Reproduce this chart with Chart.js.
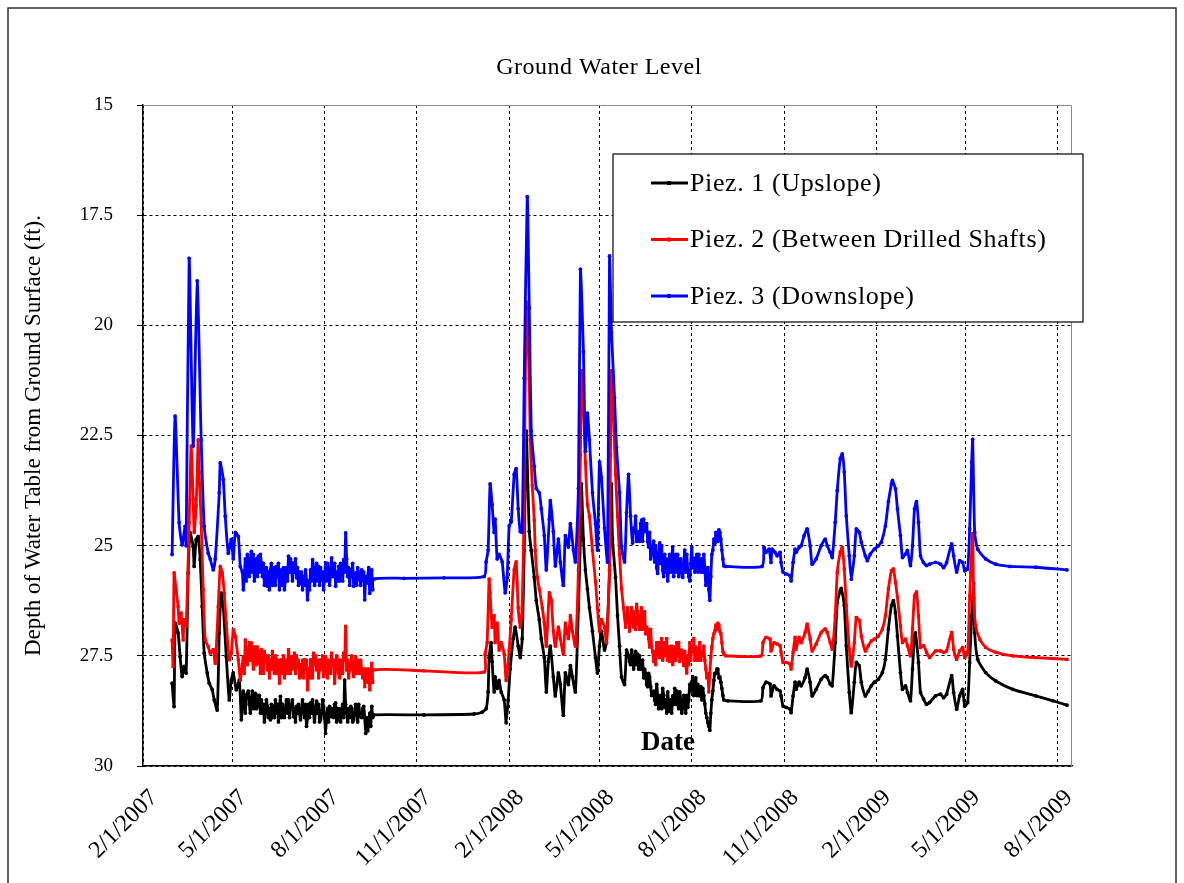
<!DOCTYPE html>
<html>
<head>
<meta charset="utf-8">
<script src="https://cdn.jsdelivr.net/npm/chart.js@4.4.1/dist/chart.umd.min.js"></script>
<style>
  html, body { margin: 0; padding: 0; background: #fff; }
  canvas { display: block; }
</style>
</head>
<body>
<canvas id="chart" width="1184" height="883"></canvas>
<script>
// x = days counted from 2/1/2007, y = depth below ground surface (ft)
const dateTickDays = [0, 89, 181, 273, 365, 455, 547, 639, 731, 820, 912];
const dateTickLabels = ['2/1/2007', '5/1/2007', '8/1/2007', '11/1/2007', '2/1/2008', '5/1/2008',
    '8/1/2008', '11/1/2008', '2/1/2009', '5/1/2009', '8/1/2009'];
const depthTicks = [15, 17.5, 20, 22.5, 25, 27.5, 30];
const seriesNames = ['Piez. 1 (Upslope)', 'Piez. 2 (Between Drilled Shafts)', 'Piez. 3 (Downslope)'];

// Piez. 1 (black)
const p1Spring07 = [[29,28.12],[31,28.65],[32,26.76],[35,26.98],[37,27.52],[39,27.97],[41,27.74],[43,27.89],[45,25.62],[47,24.71],[50,25.02],[51,25.47],[53,24.86],[55,24.79],[57,25.32],[59,26.38],[61,27.44],[64,27.89],[66,28.12],[69,28.27],[71,28.5],[74,28.73],[76,26.98],[78,26.08],[80,26.38],[83,27.52],[86,28.5],[88,28.05],[90,27.89],[93,28.27],[96,28.05],[98,28.95]];
const p1Summer07 = [[99,28.7],[100,28.3],[101,28.5],[102,28.8],[103,28.4],[104,28.35],[105,28.3],[106,28.6],[107,28.8],[108,28.5],[109,28.3],[110,28.7],[111,28.5],[112,28.35],[113,28.7],[114,28.4],[115,28.65],[116,28.4],[117,28.8],[118,28.5],[119,28.8],[120,28.6],[121,29.0],[122,28.8],[123,28.5],[124,28.65],[125,28.9],[126,28.7],[127,28.95],[128,28.6],[129,28.9],[130,28.65],[131,28.9],[132,28.5],[133,28.8],[134,28.6],[135,29.0],[136,28.7],[137,28.42],[138,28.9],[139,28.6],[140,28.73],[141,28.9],[142,28.7],[143,28.5],[144,28.8],[145,28.5],[146,28.9],[147,28.65],[148,28.6],[149,28.5],[150,28.88],[151,28.7],[152,29.0],[153,28.65],[154,28.8],[155,28.6],[156,28.8],[157,28.95],[158,28.7],[159,28.5],[160,28.73],[161,28.9],[162,28.6],[163,29.1],[164,28.9],[165,28.6],[166,28.9],[167,28.57],[168,28.8],[169,28.5],[170,28.8],[171,29.0],[172,28.7],[173,28.53],[174,28.8],[175,28.6],[176,29.0],[177,28.95],[178,28.8],[179,28.5],[180,28.65],[181,28.9],[182,29.26],[183,28.9],[184,28.7],[185,29.0],[186,28.65],[187,28.7],[188,28.88],[189,28.7],[190,28.9],[191,28.6],[192,28.57],[193,29.0],[194,28.7],[195,28.95],[196,28.7],[197,29.0],[198,28.73],[199,28.6],[200,28.9],[201,28.05],[202,28.6],[203,28.8],[204,29.0],[205,28.7],[206,28.9],[207,28.65],[208,28.7],[209,29.0],[210,28.95],[211,28.8],[212,28.6],[213,28.73],[214,29.0],[215,28.6],[216,28.8],[217,28.88],[218,28.9],[219,28.7],[220,28.65],[221,28.9],[222,29.26],[223,28.9],[224,29.2],[225,29.03],[226,28.8],[227,29.1],[228,28.65],[229,28.9],[230,28.84]];
const p1Winter07 = [[280,28.84],[330,28.82],[338,28.78]];
const p1Spring08 = [[342,28.7],[344,28.32],[345,27.54],[347,27.2],[348,27.63],[350,28.32],[351,27.98],[353,28.24],[355,28.06],[357,28.32],[360,28.5],[362,29.02],[364,28.5],[366,27.8],[369,27.11],[371,26.85],[374,27.28],[376,27.54],[378,27.11],[380,25.11],[382,22.4],[385,24.68],[387,25.11],[390,25.72],[392,26.24],[395,26.68],[397,27.11],[400,27.54],[402,28.32],[404,27.63],[406,27.28],[409,27.98],[411,28.41],[414,27.89],[416,28.15],[419,28.85],[421,27.89],[424,28.15],[426,27.72],[428,27.98],[431,28.32],[434,26.41],[436,24.85],[437,23.6],[439,24.85],[441,25.55],[443,25.98],[445,26.41],[448,26.94],[451,27.54],[453,27.89],[455,27.28],[457,26.94],[460,27.37],[462,27.2],[465,25.55],[467,23.6],[468,24.85],[471,25.72],[473,26.59],[475,27.28],[477,27.98],[480,28.15]];
const p1Summer08 = [[482,27.37],[484,27.5],[485,27.63],[486,27.7],[487,27.37],[488,27.5],[489,27.8],[490,27.63],[491,27.4],[492,27.7],[493,27.46],[494,27.8],[495,27.5],[496,27.8],[497,27.63],[498,27.6],[499,28.0],[500,27.8],[501,27.9],[502,28.15],[503,28.2],[504,27.9],[505,27.98],[506,28.2],[507,28.4],[508,28.32],[509,28.3],[510,28.5],[511,28.6],[512,28.15],[513,28.4],[514,28.7],[515,28.59],[516,28.4],[517,28.7],[518,28.24],[519,28.4],[520,28.67],[521,28.5],[522,28.8],[523,28.32],[524,28.6],[525,28.76],[526,28.5],[527,28.8],[528,28.41],[529,28.6],[530,28.24],[531,28.6],[532,28.3],[533,28.59],[534,28.7],[535,28.32],[536,28.5],[537,28.8],[538,28.67],[539,28.4],[540,28.5],[541,28.8],[542,28.4],[543,28.67],[544,28.5],[545,28.15],[546,28.3],[547,28.1],[548,27.98],[549,28.4],[550,28.24],[551,28.0],[552,28.4],[553,28.15],[554,28.3],[555,28.41],[556,28.2],[557,28.5],[558,28.24],[559,28.4],[560,28.59],[561,28.8],[562,28.9],[563,29.02],[564,29.1],[565,29.19],[566,28.8],[567,28.5],[568,28.3],[569,28.06],[570,27.9],[571,27.9],[572,27.8],[573,27.8],[574,28.0],[575,27.98],[576,28.1],[577,28.24],[578,28.4],[579,28.5]];
const p1Fall08 = [[583,28.52],[616,28.52],[618,28.22],[621,28.1],[625,28.14],[626,28.41],[629,28.18],[632,28.26],[635,28.3],[636,28.41],[638,28.64],[641,28.67],[645,28.71],[646,28.79],[648,28.41],[650,28.1],[651,28.26],[654,28.1],[656,28.18],[660,27.99],[662,27.8],[665,28.1],[667,28.41],[671,28.26],[676,28.03],[680,27.95],[682,27.99],[685,28.14],[687,28.18],[690,27.2],[692,26.29],[695,26.02],[696,25.97],[699,26.36],[701,27.27],[704,28.33],[706,28.79],[709,28.1],[711,27.65],[714,27.73],[716,28.1],[720,28.41],[723,28.3],[726,28.18],[729,28.1],[733,28.03],[737,27.88],[740,27.58],[743,26.89],[746,26.36],[748,26.25],[750,26.52],[752,27.05],[755,27.88],[757,28.26],[760,28.18],[762,28.33],[765,28.52],[767,27.8],[769,27.05],[770,26.98],[773,27.65],[775,28.33],[778,28.48],[781,28.6],[784,28.56],[790,28.41],[795,28.37],[798,28.45],[801,28.37],[806,27.95],[808,28.33],[811,28.71],[814,28.41],[817,28.26],[819,28.64],[822,28.56]];
const p1Recession09 = [[824,27.65],[826,26.59],[828,25.85],[829,26.97],[832,27.58],[840,27.88],[850,28.07],[867,28.26],[890,28.41],[907,28.52],[921,28.62]];

// Piez. 2 (red)
const p2Spring07 = [[29,27.14],[30,27.74],[31,25.62],[33,26.0],[35,26.38],[36,26.76],[38,26.53],[40,27.14],[41,26.68],[43,26.83],[46,24.48],[48,22.74],[50,23.95],[51,24.7],[53,24.1],[55,22.6],[56,23.35],[58,24.48],[60,26.0],[62,27.14],[65,27.29],[67,27.44],[70,27.36],[72,27.67],[75,26.38],[77,25.47],[79,25.62],[81,26.08],[83,26.76],[86,27.59],[88,27.44],[90,26.91],[92,27.06],[95,27.59],[97,28.05]];
const p2Summer07 = [[99,27.7],[100,27.52],[101,27.9],[102,27.14],[103,27.5],[104,27.7],[105,27.4],[106,27.2],[107,27.6],[108,27.21],[109,27.5],[110,27.8],[111,27.3],[112,27.44],[113,27.7],[114,27.3],[115,27.67],[116,27.4],[117,27.9],[118,27.36],[119,27.6],[120,27.9],[121,27.4],[122,27.59],[123,27.5],[124,27.82],[125,27.5],[126,28.0],[127,27.59],[128,27.8],[129,27.4],[130,27.74],[131,27.9],[132,27.5],[133,27.59],[134,27.9],[135,27.6],[136,28.12],[137,27.8],[138,27.59],[139,27.9],[140,27.5],[141,28.0],[142,27.74],[143,27.6],[144,27.9],[145,27.36],[146,27.6],[147,27.9],[148,27.52],[149,27.8],[150,27.6],[151,27.44],[152,27.9],[153,27.5],[154,27.74],[155,27.6],[156,28.0],[157,27.7],[158,27.97],[159,27.6],[160,28.0],[161,27.59],[162,27.8],[163,27.6],[164,28.27],[165,27.8],[166,28.0],[167,27.59],[168,27.7],[169,28.0],[170,27.44],[171,27.7],[172,27.5],[173,27.82],[174,27.6],[175,28.0],[176,27.8],[177,27.59],[178,27.8],[179,27.5],[180,27.97],[181,27.9],[182,27.52],[183,27.7],[184,28.0],[185,27.6],[186,27.74],[187,27.9],[188,27.44],[189,27.7],[190,27.6],[191,28.12],[192,27.8],[193,27.5],[194,27.59],[195,27.9],[196,28.0],[197,27.6],[198,27.74],[199,27.9],[200,27.44],[201,27.6],[202,26.83],[203,27.82],[204,27.6],[205,28.0],[206,27.8],[207,27.67],[208,27.5],[209,27.8],[210,27.97],[211,27.7],[212,27.52],[213,27.9],[214,27.6],[215,27.74],[216,27.9],[217,27.6],[218,27.82],[219,28.0],[220,27.8],[221,28.2],[222,27.8],[223,27.97],[224,28.1],[225,27.8],[226,28.27],[227,28.0],[228,27.67],[229,28.1],[230,27.82]];
const p2Winter07 = [[280,27.84],[340,27.87]];
const p2Spring08 = [[341,27.46],[343,27.2],[345,25.76],[346,26.07],[348,26.85],[350,26.59],[351,27.2],[353,26.76],[355,27.37],[357,27.2],[360,27.46],[362,28.06],[365,27.37],[367,26.68],[370,25.55],[372,25.37],[374,26.41],[376,26.85],[378,26.41],[380,23.81],[382,19.47],[385,21.2],[386,22.6],[388,23.64],[390,24.42],[391,25.11],[393,25.72],[395,25.98],[398,26.41],[400,26.76],[402,27.28],[405,26.07],[407,26.24],[409,26.94],[411,27.28],[414,26.85],[416,27.11],[419,27.46],[421,26.76],[424,27.11],[426,26.59],[428,26.94],[431,27.28],[434,25.55],[436,22.94],[437,21.03],[439,21.9],[441,23.12],[443,24.07],[445,24.33],[448,25.11],[451,25.81],[453,26.41],[455,26.94],[457,26.68],[460,26.85],[462,27.2],[465,25.55],[466,22.94],[467,21.03],[469,22.07],[471,23.38],[473,24.33],[475,25.2],[477,25.98],[479,26.41],[481,26.85],[483,26.41],[485,26.94]];
const p2Summer08 = [[487,26.41],[488,26.6],[489,26.85],[490,26.5],[491,26.9],[492,26.33],[493,26.5],[494,26.76],[495,26.9],[496,26.6],[497,26.41],[498,26.9],[499,26.68],[500,26.5],[501,27.0],[502,26.85],[503,26.9],[504,27.11],[505,27.3],[506,26.9],[507,27.28],[508,27.4],[509,27.63],[510,27.4],[511,27.7],[512,27.2],[513,27.5],[514,27.2],[515,27.54],[516,27.4],[517,27.11],[518,27.6],[519,27.46],[520,27.2],[521,27.5],[522,27.11],[523,27.6],[524,27.3],[525,27.63],[526,27.4],[527,27.28],[528,27.7],[529,27.54],[530,27.3],[531,27.6],[532,27.2],[533,27.5],[534,27.2],[535,27.63],[536,27.5],[537,27.37],[538,27.5],[539,27.72],[540,27.4],[541,27.7],[542,27.89],[543,27.5],[544,27.7],[545,27.2],[546,27.6],[547,27.37],[548,27.4],[549,27.11],[550,27.6],[551,27.3],[552,27.37],[553,27.6],[554,27.4],[555,27.2],[556,27.6],[557,27.46],[558,27.5],[559,27.28],[560,27.6],[561,27.8],[562,28.0],[563,27.9],[564,28.32],[565,27.9],[566,27.54],[567,27.3],[568,27.11],[569,27.0],[570,26.94],[571,26.8],[572,26.9],[573,26.76],[574,26.8],[575,26.94],[576,27.0],[577,27.2],[578,27.4],[579,27.46]];
const p2Fall08 = [[581,27.5],[616,27.5],[618,27.2],[621,27.08],[625,27.12],[626,27.39],[629,27.2],[632,27.23],[635,27.27],[636,27.42],[638,27.65],[641,27.65],[645,27.69],[646,27.8],[648,27.42],[650,27.08],[651,27.35],[654,27.08],[656,27.2],[660,26.97],[662,26.78],[665,27.12],[667,27.39],[671,27.23],[676,26.97],[680,26.89],[682,26.97],[685,27.2],[687,27.35],[690,26.59],[692,25.61],[695,25.15],[697,25.04],[699,25.53],[701,26.36],[704,27.35],[706,27.73],[709,27.2],[711,26.63],[714,26.7],[716,27.05],[720,27.39],[723,27.27],[726,27.16],[729,27.12],[733,27.05],[737,26.89],[740,26.59],[743,25.98],[746,25.57],[748,25.53],[750,25.83],[752,26.17],[755,26.82],[757,27.2],[760,27.12],[762,27.27],[765,27.5],[767,26.89],[769,26.14],[771,26.05],[773,26.59],[775,27.31],[778,27.27],[781,27.42],[784,27.54],[790,27.39],[795,27.39],[798,27.42],[801,27.39],[806,26.97],[808,27.35],[811,27.58],[814,27.39],[817,27.31],[819,27.54],[822,27.42]];
const p2Recession09 = [[824,26.14],[825,25.61],[827,24.73],[828,26.21],[830,26.82],[834,27.12],[840,27.31],[850,27.42],[867,27.5],[890,27.54],[921,27.58]];

// Piez. 3 (blue)
const p3Spring07 = [[29,25.2],[32,22.06],[36,24.48],[39,24.98],[42,24.56],[43,25.0],[46,18.48],[50,22.74],[54,18.99],[58,22.6],[61,24.56],[65,25.17],[67,25.3],[70,25.55],[72,25.3],[76,23.8],[77,23.12],[80,23.5],[82,24.33],[85,25.17],[88,24.86],[90,25.3],[92,24.7],[95,24.79],[97,25.47]];
const p3Summer07 = [[99,25.6],[100,26.0],[101,25.7],[102,25.3],[103,25.8],[104,25.2],[105,25.4],[106,25.7],[107,25.3],[108,25.13],[109,25.6],[110,25.2],[111,25.8],[112,25.47],[113,25.3],[114,25.7],[115,25.24],[116,25.6],[117,25.2],[118,25.39],[119,25.7],[120,25.4],[121,25.9],[122,25.7],[123,25.5],[124,25.92],[125,25.6],[126,26.0],[127,25.55],[128,25.4],[129,25.9],[130,25.77],[131,25.5],[132,25.9],[133,25.47],[134,25.7],[135,25.4],[136,26.0],[137,25.7],[138,25.55],[139,25.9],[140,25.5],[141,26.0],[142,25.77],[143,25.5],[144,25.8],[145,25.24],[146,25.6],[147,25.3],[148,25.47],[149,25.8],[150,25.39],[151,25.6],[152,25.3],[153,25.73],[154,25.5],[155,25.9],[156,25.6],[157,25.85],[158,25.6],[159,26.0],[160,25.7],[161,25.9],[162,25.55],[163,25.8],[164,26.23],[165,25.8],[166,26.0],[167,25.55],[168,25.8],[169,25.32],[170,25.5],[171,25.9],[172,25.7],[173,25.4],[174,25.8],[175,25.47],[176,25.9],[177,25.5],[178,25.77],[179,25.6],[180,26.0],[181,25.7],[182,25.39],[183,25.8],[184,25.4],[185,25.66],[186,25.9],[187,25.6],[188,25.28],[189,25.7],[190,25.55],[191,25.4],[192,25.92],[193,25.6],[194,25.8],[195,25.47],[196,25.8],[197,25.4],[198,25.62],[199,25.8],[200,25.32],[201,25.6],[202,24.71],[203,25.3],[204,25.7],[205,25.5],[206,25.9],[207,25.55],[208,25.7],[209,25.4],[210,25.92],[211,25.8],[212,25.62],[213,25.9],[214,25.5],[215,25.77],[216,25.6],[217,25.9],[218,25.55],[219,25.8],[220,25.6],[221,26.23],[222,25.7],[223,25.85],[224,25.7],[225,25.5],[226,26.08],[227,25.7],[228,25.55],[229,26.0],[230,25.76]];
const p3Winter07 = [[260,25.74],[300,25.73],[340,25.7]];
const p3Spring08 = [[342,25.37],[344,25.1],[346,23.6],[348,24.07],[350,24.7],[351,24.4],[353,25.3],[355,25.2],[358,25.37],[361,26.07],[363,25.72],[365,24.55],[367,24.46],[370,23.38],[372,23.25],[374,24.16],[376,24.68],[378,24.7],[380,21.2],[383,17.08],[385,19.6],[387,22.4],[390,23.2],[392,23.7],[395,23.8],[397,24.16],[400,24.77],[402,25.55],[405,24.4],[406,23.98],[409,24.68],[411,25.46],[414,24.85],[416,25.37],[419,25.9],[421,24.77],[424,25.03],[426,24.5],[429,25.1],[431,25.37],[434,23.7],[436,18.73],[439,20.6],[441,22.86],[443,21.99],[445,22.6],[448,23.8],[451,24.5],[453,25.1],[455,23.1],[457,23.46],[460,24.6],[463,25.37],[465,18.43],[467,20.16],[470,21.64],[472,22.77],[475,23.8],[477,25.03],[480,25.37]];
const p3Summer08 = [[482,24.25],[484,23.38],[486,24.33],[488,24.94],[489,24.6],[490,24.7],[491,24.33],[492,24.9],[493,24.68],[495,24.9],[496,24.5],[497,24.42],[498,24.9],[499,24.4],[500,24.68],[502,24.5],[503,24.9],[504,25.03],[505,24.7],[506,25.3],[507,25.2],[509,24.9],[510,25.37],[511,25.0],[512,25.5],[513,25.63],[514,25.2],[515,24.94],[516,25.4],[517,25.0],[518,25.55],[519,25.7],[520,25.2],[521,25.6],[522,25.3],[523,25.8],[524,25.5],[525,25.2],[526,25.6],[527,25.3],[528,25.03],[529,25.7],[530,25.46],[531,25.2],[532,25.6],[533,25.2],[534,25.7],[535,25.55],[536,25.3],[537,25.6],[538,25.72],[539,25.4],[540,25.1],[541,25.6],[542,25.2],[543,25.55],[544,25.7],[545,25.8],[546,25.4],[547,25.03],[548,25.5],[549,25.29],[550,25.6],[551,25.3],[552,25.2],[553,25.6],[554,25.2],[555,25.46],[556,25.6],[557,25.3],[558,25.6],[559,25.2],[560,25.5],[561,25.9],[562,25.8],[563,25.5],[564,26.0],[565,26.24],[566,25.7],[567,25.2],[568,25.1],[569,24.85],[570,24.95],[571,24.7],[572,24.77],[573,24.9],[574,24.64],[575,24.7],[576,24.85],[577,25.1],[578,25.3],[579,25.46]];
const p3Fall08 = [[581,25.47],[617,25.47],[619,25.04],[621,25.15],[624,25.08],[626,25.38],[627,25.08],[630,25.15],[632,25.23],[635,25.15],[636,25.38],[638,25.6],[641,25.64],[645,25.68],[646,25.8],[648,25.38],[650,25.08],[651,25.15],[654,25.04],[656,25.0],[659,24.77],[662,24.62],[665,25.0],[667,25.42],[671,25.3],[676,25.0],[680,24.85],[682,25.0],[685,25.15],[687,25.27],[690,24.47],[692,23.75],[695,23.03],[697,22.92],[699,23.33],[701,24.32],[704,25.23],[706,25.76],[709,25.23],[711,24.62],[714,24.7],[716,24.92],[720,25.23],[722,25.34],[725,25.19],[729,25.08],[733,25.0],[736,24.92],[740,24.55],[743,24.0],[746,23.6],[747,23.52],[750,23.71],[752,24.17],[755,24.77],[757,25.27],[760,25.19],[762,25.11],[765,25.45],[767,25.0],[769,24.17],[771,24.0],[773,24.47],[775,25.23],[778,25.38],[781,25.45],[784,25.42],[790,25.38],[795,25.42],[798,25.5],[801,25.38],[806,24.96],[808,25.23],[811,25.6],[814,25.34],[817,25.38],[819,25.57],[822,25.53]];
const p3Recession09 = [[824,24.62],[826,23.1],[827,22.59],[829,24.7],[832,25.08],[840,25.3],[850,25.42],[864,25.47],[890,25.49],[921,25.55]];

const serif = "'Liberation Serif', 'Times New Roman', serif";

function toPoints(...parts) {
    return [].concat(...parts).map(([day, depth]) => ({ x: day, y: depth }));
}

function makeSeries(label, data, color, style, order) {
    return {
        label,
        data,
        borderColor: color,
        backgroundColor: color,
        borderWidth: 2.8,
        pointStyle: style,
        pointRadius: style === 'rect' ? 2.3 : 1.9,
        pointBorderWidth: 0,
        tension: 0.2,
        order,
    };
}

const datasets = [
    makeSeries(seriesNames[0], toPoints(p1Spring07, p1Summer07, p1Winter07, p1Spring08, p1Summer08, p1Fall08, p1Recession09), '#000000', 'circle', 2),
    makeSeries(seriesNames[1], toPoints(p2Spring07, p2Summer07, p2Winter07, p2Spring08, p2Summer08, p2Fall08, p2Recession09), '#ff0000', 'rect', 1),
    makeSeries(seriesNames[2], toPoints(p3Spring07, p3Summer07, p3Winter07, p3Spring08, p3Summer08, p3Fall08, p3Recession09), '#0000ff', 'circle', 0),
];

// outer frame, title, plot border, "Date" and the boxed legend
const decor = {
    id: 'decor',
    beforeDraw(chart) {
        const { ctx } = chart;
        ctx.save();
        ctx.fillStyle = '#fff';
        ctx.fillRect(0, 0, chart.width, chart.height);
        ctx.strokeStyle = '#333';
        ctx.lineWidth = 1.5;
        ctx.strokeRect(8, 8, chart.width - 16, chart.height + 20);
        ctx.fillStyle = '#000';
        ctx.font = '24px ' + serif;
        ctx.letterSpacing = '0.5px';
        ctx.textAlign = 'center';
        ctx.textBaseline = 'middle';
        ctx.fillText('Ground Water Level', chart.width / 2 + 7, 68);
        ctx.restore();
    },
    afterDatasetsDraw(chart) {
        const { ctx, chartArea: a } = chart;
        ctx.save();
        ctx.strokeStyle = '#8c8c8c';
        ctx.lineWidth = 1;
        ctx.beginPath();
        ctx.moveTo(a.left, a.top + 0.5);
        ctx.lineTo(a.right - 0.5, a.top + 0.5);
        ctx.lineTo(a.right - 0.5, a.bottom);
        ctx.stroke();

        ctx.fillStyle = '#000';
        ctx.font = 'bold 27px ' + serif;
        ctx.textAlign = 'center';
        ctx.textBaseline = 'middle';
        ctx.fillText('Date', a.left + 525, a.bottom - 23);

        const bx = a.left + 470, by = a.top + 49, bw = 470, bh = 168;
        ctx.fillStyle = '#fff';
        ctx.fillRect(bx, by, bw, bh);
        ctx.strokeStyle = '#000';
        ctx.lineWidth = 1.2;
        ctx.strokeRect(bx, by, bw, bh);
        ctx.font = '26px ' + serif;
        ctx.letterSpacing = '0.6px';
        ctx.textAlign = 'left';
        chart.data.datasets.forEach((ds, i) => {
            const y = by + 29 + i * 56.5;
            ctx.strokeStyle = ds.borderColor;
            ctx.lineWidth = 2.8;
            ctx.beginPath();
            ctx.moveTo(bx + 38, y);
            ctx.lineTo(bx + 75, y);
            ctx.stroke();
            ctx.fillStyle = ds.borderColor;
            ctx.fillRect(bx + 54, y - 2, 4, 4);
            ctx.fillStyle = '#000';
            ctx.fillText(ds.label, bx + 77, y + 1);
        });
        ctx.restore();
    },
};

new Chart(document.getElementById('chart'), {
    type: 'line',
    data: { datasets },
    options: {
        responsive: false,
        animation: false,
        devicePixelRatio: 1,
        layout: { padding: { left: 8, right: 112, top: 105, bottom: 0 } },
        plugins: {
            legend: { display: false },
            tooltip: { enabled: false },
            title: { display: false },
        },
        scales: {
            x: {
                type: 'linear',
                min: 0,
                max: 926,
                afterBuildTicks: s => { s.ticks = dateTickDays.map(v => ({ value: v })); },
                afterFit: s => { s.height = 117; },
                ticks: {
                    autoSkip: false,
                    minRotation: 45,
                    maxRotation: 45,
                    padding: 18,
                    labelOffset: 11,
                    color: '#000',
                    font: { family: serif, size: 24 },
                    callback: (v, i) => dateTickLabels[i],
                },
                grid: { color: '#000', lineWidth: 1, drawTicks: false },
                border: { display: true, color: '#000', width: 1.5, dash: [3, 3] },
            },
            y: {
                reverse: true,
                min: 15,
                max: 30,
                afterBuildTicks: s => { s.ticks = depthTicks.map(v => ({ value: v })); },
                afterFit: s => { s.width = 135; },
                ticks: {
                    padding: 24,
                    color: '#000',
                    font: { family: serif, size: 19 },
                    callback: v => String(v),
                },
                grid: {
                    color: c => (c.tick && c.tick.value === 15 ? 'rgba(0,0,0,0)' : '#000'),
                    lineWidth: 1,
                    tickLength: 6,
                    tickColor: '#000',
                    tickBorderDash: [],
                },
                border: { display: true, color: '#000', width: 1.5, dash: [3, 3] },
                title: {
                    display: true,
                    text: 'Depth of Water Table from Ground Surface (ft).',
                    color: '#000',
                    font: { family: serif, size: 23 },
                    padding: { top: 12, bottom: 0 },
                },
            },
        },
    },
    plugins: [decor],
});
</script>
</body>
</html>
